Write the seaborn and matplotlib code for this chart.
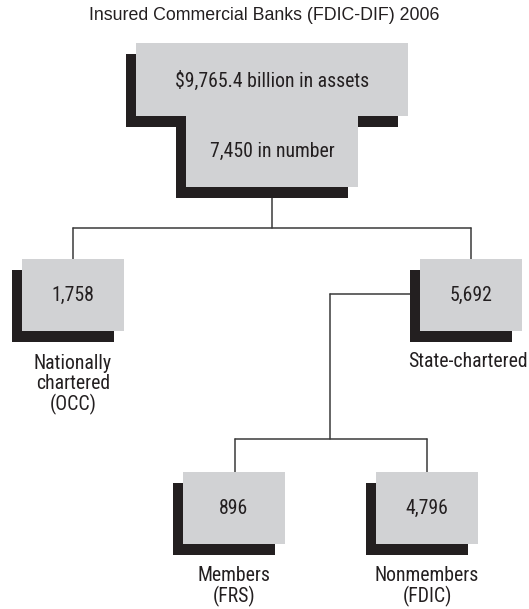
import matplotlib
matplotlib.use("Agg")
import matplotlib.pyplot as plt
import seaborn as sns
from matplotlib.patches import Polygon, Rectangle
from matplotlib import font_manager

sns.set_theme(style="white")

# pick a narrow sans font if one is installed
entries = font_manager.fontManager.ttflist
names = {f.name for f in entries}
FONT = dict(family=["Liberation Sans", "DejaVu Sans"])
SCALE = 0.93
for cand in ["Liberation Sans Narrow", "Roboto Condensed", "Open Sans Condensed",
             "Arial Narrow", "Nimbus Sans Narrow", "DejaVu Sans Condensed"]:
    if cand in names:
        FONT = dict(family=[cand, "DejaVu Sans"])
        SCALE = 1.0
        break
else:
    cond = [f for f in entries if str(f.stretch) in ("condensed", "semi-condensed", "500", "700")
            and f.style == "normal" and f.weight in (400, "normal", "regular")]
    if cond:
        pick = cond[0]
        for f in cond:
            if f.name in ("Roboto", "Open Sans", "Liberation Sans", "Noto Sans", "DejaVu Sans"):
                pick = f
                break
        FONT = dict(family=[pick.name, "DejaVu Sans"], stretch=pick.stretch)
        SCALE = 1.0
plt.rcParams["font.family"] = FONT["family"]

# ---- data ----
title = "Insured Commercial Banks (FDIC-DIF) 2006"
total_assets = "$9,765.4 billion in assets"
total_number = "7,450 in number"
node_names = ["Nationally\nchartered\n(OCC)", "State-chartered", "Members\n(FRS)", "Nonmembers\n(FDIC)"]
node_values = [1758, 5692, 896, 4796]

# ---- layout (pixels) ----
W, H = 529, 609
GRAY = "#d1d2d4"
DARK = "#231f20"
LINE = "#3a3a3a"
TXT = "#231f20"
SDX, SDY = -10, 11
FS = 14.2 * SCALE

fig = plt.figure(figsize=(W / 100, H / 100), dpi=100)
ax = fig.add_axes([0, 0, 1, 1])
ax.set_xlim(0, W)
ax.set_ylim(H, 0)
ax.axis("off")

def txt(x, y, s, size, va="center", ha="center", **kw):
    extra = {}
    if "stretch" in FONT:
        extra["fontstretch"] = FONT["stretch"]
    ax.text(x, y, s, ha=ha, va=va, fontsize=size, color=TXT, zorder=3, **extra, **kw)

def poly(pts, dx, dy, color, z):
    ax.add_patch(Polygon([(x + dx, y + dy) for x, y in pts], closed=True,
                         facecolor=color, edgecolor="none", zorder=z))

# top T-shaped box
top_pts = [(136, 43), (408, 43), (408, 116), (358, 116), (358, 187),
           (186, 187), (186, 116), (136, 116)]
poly(top_pts, SDX, SDY, DARK, 1)
poly(top_pts, 0, 0, GRAY, 2)
txt(272, 81, total_assets, FS)
txt(272, 151, total_number, FS)

# small boxes: (center x, top y)
boxes = [(73, 259), (471, 259), (234, 472), (427, 472)]
BW, BH = 102, 72
label_tops = [354, 352, 566, 566]
for (cx, ty), val, name, ly in zip(boxes, node_values, node_names, label_tops):
    ax.add_patch(Rectangle((cx - BW / 2 + SDX, ty + SDY), BW, BH, facecolor=DARK,
                           edgecolor="none", zorder=1))
    ax.add_patch(Rectangle((cx - BW / 2, ty), BW, BH, facecolor=GRAY,
                           edgecolor="none", zorder=2))
    txt(cx, ty + BH / 2, f"{val:,}", FS)
    if name == "State-chartered":
        txt(W - 1, ly, name, FS, va="top", ha="right")
    else:
        txt(cx, ly, name, FS, va="top", linespacing=1.07)

# connector lines
segments = [
    ([272, 272], [198, 228]),
    ([73, 471], [228, 228]),
    ([73, 73], [228, 259]),
    ([471, 471], [228, 259]),
    ([330, 410], [294, 294]),
    ([330, 330], [294, 439]),
    ([235, 427], [439, 439]),
    ([235, 235], [439, 472]),
    ([427, 427], [439, 472]),
]
for xs, ys in segments:
    sns.lineplot(x=xs, y=ys, ax=ax, color=LINE, linewidth=1.1, sort=False,
                 estimator=None, zorder=0.5)

ax.text(264, 15, title, ha="center", va="center", fontsize=12.8, color=TXT,
        family=["Liberation Sans", "DejaVu Sans"])

fig.savefig("out.png", dpi=100)
